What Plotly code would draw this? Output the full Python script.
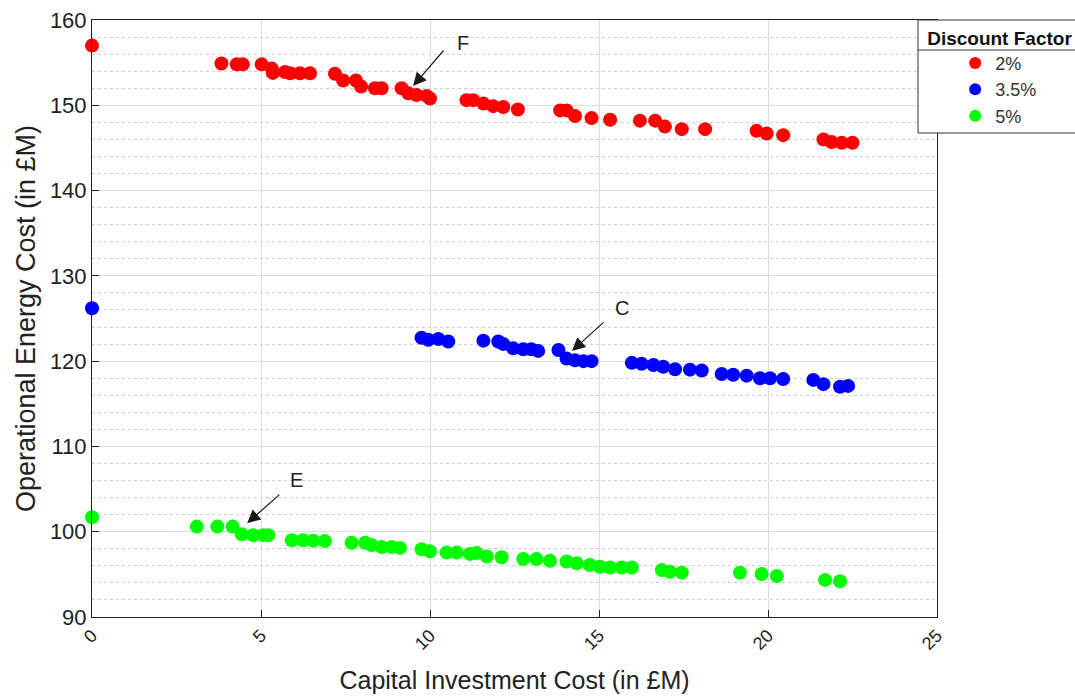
import plotly.graph_objects as go

# Discount factor series: capital investment cost vs operational energy cost (both in £M)
capital_2 = [0.0, 3.83, 4.28, 4.46, 5.02, 5.32, 5.35, 5.71, 5.86, 6.15, 6.45, 7.19, 7.43, 7.81,
             7.96, 8.37, 8.57, 9.16, 9.36, 9.6, 9.9, 10.0, 11.08, 11.28, 11.58, 11.87, 12.17,
             12.6, 13.85, 14.04, 14.29, 14.78, 15.33, 16.21, 16.66, 16.95, 17.45, 18.14, 19.66,
             19.96, 20.45, 21.64, 21.88, 22.18, 22.5]
energy_2 = [157.0, 154.9, 154.8, 154.8, 154.8, 154.3, 153.8, 153.9, 153.75, 153.75, 153.75, 153.7,
            152.9, 152.9, 152.2, 152.0, 152.0, 152.0, 151.4, 151.2, 151.1, 150.8, 150.6, 150.6,
            150.2, 149.9, 149.8, 149.5, 149.4, 149.4, 148.75, 148.5, 148.3, 148.2, 148.2, 147.5,
            147.2, 147.2, 147.0, 146.7, 146.5, 146.0, 145.7, 145.6, 145.6]

capital_35 = [0.0, 9.75, 9.95, 10.25, 10.54, 11.58, 12.02, 12.17, 12.46, 12.76, 13.0, 13.2, 13.8,
              14.04, 14.29, 14.54, 14.78, 15.97, 16.26, 16.61, 16.9, 17.25, 17.69, 18.04, 18.63,
              18.97, 19.37, 19.76, 20.06, 20.45, 21.34, 21.64, 22.13, 22.37]
energy_35 = [126.2, 122.75, 122.5, 122.6, 122.3, 122.4, 122.3, 122.0, 121.5, 121.4, 121.4, 121.2,
             121.3, 120.3, 120.1, 120.0, 120.0, 119.8, 119.7, 119.55, 119.35, 119.05, 119.0, 118.9,
             118.5, 118.4, 118.3, 118.0, 118.0, 117.9, 117.8, 117.3, 117.0, 117.1]

capital_5 = [0.0, 3.1, 3.71, 4.16, 4.43, 4.77, 5.07, 5.22, 5.91, 6.25, 6.55, 6.89, 7.68, 8.08, 8.27,
             8.57, 8.87, 9.11, 9.75, 10.0, 10.49, 10.79, 11.18, 11.38, 11.68, 12.12, 12.76, 13.15,
             13.55, 14.04, 14.34, 14.73, 15.03, 15.33, 15.67, 15.97, 16.86, 17.1, 17.45, 19.17,
             19.81, 20.26, 21.69, 22.13]
energy_5 = [101.7, 100.6, 100.6, 100.6, 99.7, 99.6, 99.6, 99.6, 99.0, 99.0, 98.95, 98.9, 98.7, 98.7,
            98.45, 98.2, 98.2, 98.1, 97.95, 97.7, 97.55, 97.55, 97.4, 97.5, 97.1, 97.0, 96.8, 96.8,
            96.6, 96.5, 96.3, 96.1, 95.9, 95.8, 95.8, 95.8, 95.5, 95.3, 95.2, 95.2, 95.05, 94.8,
            94.35, 94.2]

series_names = ["2%", "3.5%", "5%"]
series_colors = ["#ff0000", "#0000ff", "#00ff00"]

# Labelled solutions: (label, arrow tip x, tip y, arrow tail x, tail y, text x, text y)
callouts = [
    ("F", 9.5, 152.26, 10.44, 156.6, 10.98, 157.3),
    ("C", 14.2, 121.2, 15.18, 124.7, 15.68, 126.2),
    ("E", 4.59, 101.0, 5.59, 104.5, 6.04, 106.1),
]

font_family = "Liberation Sans, Arial, sans-serif"

fig = go.Figure()
for name, color, xs, ys in zip(series_names, series_colors,
                               [capital_2, capital_35, capital_5],
                               [energy_2, energy_35, energy_5]):
    fig.add_trace(go.Scatter(
        x=xs, y=ys, mode="markers", name=name,
        marker=dict(color=color, size=14, line=dict(width=0)),
        cliponaxis=False,
    ))

for label, tx, ty, axv, ayv, lx, ly in callouts:
    fig.add_annotation(
        x=tx, y=ty, ax=axv, ay=ayv, xref="x", yref="y", axref="x", ayref="y",
        text="", showarrow=True, arrowhead=2, arrowsize=2.2, arrowwidth=1.2,
        arrowcolor="#1a1a1a",
    )
    fig.add_annotation(
        x=lx, y=ly, xref="x", yref="y", text=label, showarrow=False,
        font=dict(family=font_family, size=20, color="#222222"),
    )

# Legend frame with a rule under its title
fig.add_shape(type="rect", xref="paper", yref="paper",
              x0=0.9775, x1=1.17, y0=0.8107, y1=1.0,
              fillcolor="white", line=dict(color="#333333", width=1), layer="above")
fig.add_shape(type="line", xref="paper", yref="paper",
              x0=0.9775, x1=1.17, y0=0.9497, y1=0.9497,
              line=dict(color="#333333", width=1), layer="above")

axis_common = dict(
    showline=True, linecolor="#222222", linewidth=1, mirror=True,
    ticks="inside", ticklen=7, tickcolor="#222222",
    showgrid=True, gridcolor="#dddddd", gridwidth=1, zeroline=False,
)

fig.update_xaxes(
    range=[0, 25], dtick=5, tick0=0, tickangle=-45,
    tickfont=dict(family=font_family, size=18, color="#222222"),
    title=dict(text="Capital Investment Cost (in £M)",
               font=dict(family=font_family, size=25, color="#222222"), standoff=18),
    **axis_common,
)
fig.update_yaxes(
    range=[90, 160], dtick=10, tick0=90,
    tickfont=dict(family=font_family, size=22, color="#222222"),
    title=dict(text="Operational Energy Cost (in £M)",
               font=dict(family=font_family, size=27, color="#222222"), standoff=6),
    minor=dict(dtick=2, showgrid=True, griddash="dot", gridcolor="#cfcfcf", ticks=""),
    **axis_common,
)

fig.update_layout(
    width=1075, height=699,
    margin=dict(l=92, r=138, t=20, b=82, autoexpand=False),
    plot_bgcolor="white", paper_bgcolor="white",
    font=dict(family=font_family, color="#222222"),
    legend=dict(
        x=0.986, y=1.0, xanchor="left", yanchor="top",
        bgcolor="rgba(0,0,0,0)", borderwidth=0,
        title=dict(text="<b>Discount Factor</b>", side="top",
                   font=dict(family=font_family, size=19, color="#111111")),
        font=dict(family=font_family, size=18, color="#333333"),
        indentation=30, itemsizing="constant", tracegroupgap=0,
    ),
)

fig.write_html("out.html")
